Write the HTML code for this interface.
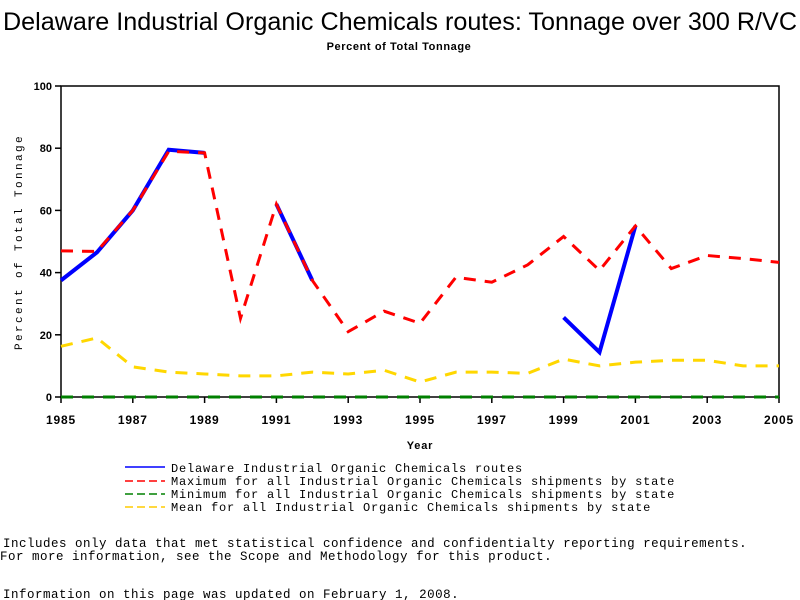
<!DOCTYPE html>
<html><head><meta charset="utf-8"><style>
body{margin:0;background:#fff;width:800px;height:600px;overflow:hidden;font-family:"Liberation Sans",sans-serif}
svg{display:block}
.mono{font-family:"Liberation Mono",monospace}
</style></head><body>
<svg id="chart" width="800" height="600" xmlns="http://www.w3.org/2000/svg">
<text x="400" y="30" text-anchor="middle" font-size="25" textLength="794" lengthAdjust="spacingAndGlyphs" font-family="Liberation Sans, sans-serif">Delaware Industrial Organic Chemicals routes: Tonnage over 300 R/VC</text>
<text x="399" y="50" text-anchor="middle" font-size="11" font-weight="bold" letter-spacing="0.6">Percent of Total Tonnage</text>
<rect x="61" y="86" width="718" height="311" fill="none" stroke="#000" stroke-width="1.5"/>
<g id="axes"></g>
<g id="series"></g>
<text x="420" y="449" text-anchor="middle" font-size="11" font-weight="bold" letter-spacing="0.8">Year</text>
<text transform="translate(22,242) rotate(-90)" text-anchor="middle" font-size="11" letter-spacing="2.4" class="mono">Percent of Total Tonnage</text>
<g class="mono" font-size="12" letter-spacing="0.8">
<line x1="125" y1="467" x2="165" y2="467" stroke="#0000ff" stroke-width="1.5"/>
<text x="171" y="472">Delaware Industrial Organic Chemicals routes</text>
<line x1="125" y1="481" x2="165" y2="481" stroke="#ff0000" stroke-width="1.5" stroke-dasharray="8,4"/>
<text x="171" y="485">Maximum for all Industrial Organic Chemicals shipments by state</text>
<line x1="125" y1="494" x2="165" y2="494" stroke="#008000" stroke-width="1.5" stroke-dasharray="8,4"/>
<text x="171" y="498">Minimum for all Industrial Organic Chemicals shipments by state</text>
<line x1="125" y1="507" x2="165" y2="507" stroke="#ffcc00" stroke-width="1.5" stroke-dasharray="8,4"/>
<text x="171" y="511">Mean for all Industrial Organic Chemicals shipments by state</text>
</g>
<g class="mono" font-size="12.5" letter-spacing="0.5">
<text x="3" y="547">Includes only data that met statistical confidence and confidentialty reporting requirements.</text>
<text x="0" y="560">For more information, see the Scope and Methodology for this product.</text>
<text x="3" y="598">Information on this page was updated on February 1, 2008.</text>
</g>
</svg>
<script>
const years=[1985,1986,1987,1988,1989,1990,1991,1992,1993,1994,1995,1996,1997,1998,1999,2000,2001,2002,2003,2004,2005];
const delaware=[37.5,46.5,60,79.5,78.5,null,62,37.5,null,null,null,null,null,null,25.6,14.4,55,null,null,null,null];
const maxVals=[47,46.8,60,79,78.5,25.3,62,37.5,21,27.6,23.7,38.5,36.9,42.5,51.6,40.7,55,41.3,45.5,44.5,43.3];
const minVals=[0,0,0,0,0,0,0,0,0,0,0,0,0,0,0,0,0,0,0,0,0];
const meanVals=[16.3,19,9.7,8,7.4,6.8,6.8,8,7.4,8.6,4.8,8,8,7.6,12.2,10,11.2,11.8,11.8,10,10];
const yTicks=[0,20,40,60,80,100];
const xTickYears=[1985,1987,1989,1991,1993,1995,1997,1999,2001,2003,2005];
const NS="http://www.w3.org/2000/svg";
const X=y=>61+(y-1985)*(718/20);
const Y=v=>397-v*3.11;
const axes=document.getElementById('axes'),ser=document.getElementById('series');
function mk(tag,attrs,parent){const e=document.createElementNS(NS,tag);for(const k in attrs)e.setAttribute(k,attrs[k]);parent.appendChild(e);return e;}
yTicks.forEach(t=>{
  const l=mk('line',{x1:55,x2:61,y1:Y(t),y2:Y(t),stroke:'#000','stroke-width':1.5},axes);
  
  
  const tx=mk('text',{x:52,y:Y(t)+4,'text-anchor':'end','font-size':11,'font-weight':'bold'},axes);
  
  
  tx.textContent=t;
});
xTickYears.forEach(t=>{
  const l=mk('line',{x1:X(t),x2:X(t),y1:397,y2:403,stroke:'#000','stroke-width':1.5},axes);
  
  
  const tx=mk('text',{x:X(t),y:424,'text-anchor':'middle','font-size':12,'font-weight':'bold','letter-spacing':'0.8'},axes);
  
  
  tx.textContent=t;
});
function draw(vals,color,w,dash,name){
  let segs=[],cur=[];
  vals.forEach((v,i)=>{if(v==null){if(cur.length)segs.push(cur);cur=[];}else cur.push(X(years[i])+','+Y(v));});
  if(cur.length)segs.push(cur);
  segs.forEach(s=>{
    const p=mk('polyline',{points:s.join(' '),fill:'none',stroke:color,'stroke-width':w,'stroke-dasharray':dash},ser);
    
    
  });
}
draw(minVals,'#008000',3,'12,9','minimum-line');
draw(meanVals,'#ffd700',3,'12,9','mean-line');
draw(delaware,'#0000ff',4,'none','delaware-line');
draw(maxVals,'#ff0000',3,'12,9','maximum-line');
</script>
</body></html>
